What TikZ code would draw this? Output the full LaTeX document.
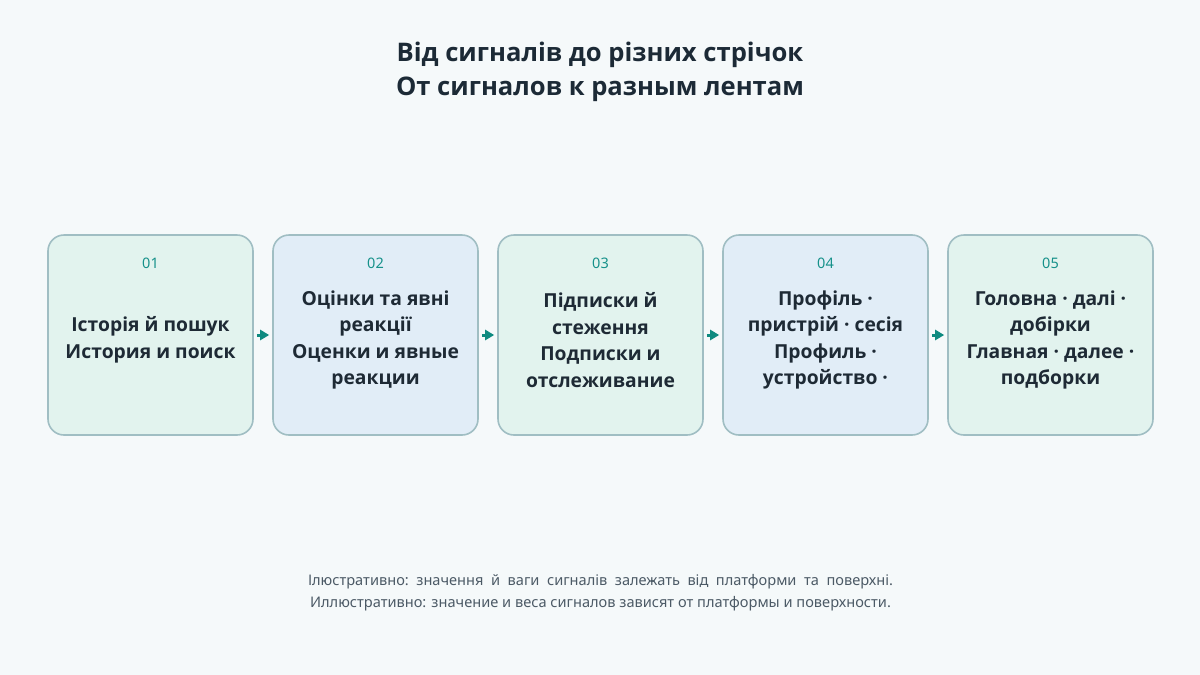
\documentclass[tikz,border=0pt]{standalone}
\usepackage{fontspec}
\setmainfont{Noto Sans}
\newfontfamily\headfont{Open Sans}
\usetikzlibrary{arrows.meta}
\definecolor{bg}{HTML}{F5F9FA}
\definecolor{titlec}{HTML}{1C2A36}
\definecolor{boxtext}{HTML}{1E2A35}
\definecolor{greenf}{HTML}{E2F3EE}
\definecolor{bluef}{HTML}{E1EDF7}
\definecolor{boxline}{HTML}{A0BEC3}
\definecolor{numc}{HTML}{16918A}
\definecolor{arrowc}{HTML}{0E8A80}
\definecolor{footc}{HTML}{4C5A66}
\tikzset{
  stagebox/.style={draw=boxline, line width=1.6pt, rounded corners=16pt,
    minimum width=205pt, minimum height=200pt, inner sep=0pt},
  greenbox/.style={stagebox, fill=greenf},
  bluebox/.style={stagebox, fill=bluef},
  numtext/.style={text=numc, font=\fontsize{14.5}{16}\selectfont, inner sep=0pt},
  stagetext/.style={text=boxtext, align=center, inner sep=0pt,
    font=\headfont\fontsize{19.3}{26.5}\selectfont\bfseries},
  flow/.style={draw=arrowc, line width=3pt, -{Triangle[length=9pt,width=10pt]},
    shorten <=3pt, shorten >=3pt}
}
\begin{document}
\begin{tikzpicture}[x=1pt,y=-1pt]
\fill[bg] (0,0) rectangle (1200,675);
\useasboundingbox (0,0) rectangle (1200,675);
\node[text=titlec, align=center, font=\headfont\fontsize{25.6}{34}\selectfont\bfseries] (title) at (600,72)
  {Від сигналів до різних стрічок\\От сигналов к разным лентам};

\node[greenbox] (b1) at (150.5,335) {};
\node[bluebox]  (b2) at (375.5,335) {};
\node[greenbox] (b3) at (600.5,335) {};
\node[bluebox]  (b4) at (825.5,335) {};
\node[greenbox] (b5) at (1050.5,335) {};

\node[numtext] (n1) at (150.5,263) {01};
\node[numtext] (n2) at (375.5,263) {02};
\node[numtext] (n3) at (600.5,263) {03};
\node[numtext] (n4) at (825.5,263) {04};
\node[numtext] (n5) at (1050.5,263) {05};

\node[stagetext] (t1) at (150.5,340) {Історія й пошук\\История и поиск};
\node[stagetext] (t2) at (375.5,340) {Оцінки та явні\\реакції\\Оценки и явные\\реакции};
\node[stagetext] (t3) at (600.5,340) {Підписки й\\стеження\\Подписки и\\отслеживание};
\node[stagetext] (t4) at (825.5,340) {Профіль ·\\пристрій · сесія\\Профиль ·\\устройство ·};
\node[stagetext] (t5) at (1050.5,340) {Головна · далі ·\\добірки\\Главная · далее ·\\подборки};

\draw[flow] (b1.east) -- (b2.west);
\draw[flow] (b2.east) -- (b3.west);
\draw[flow] (b3.east) -- (b4.west);
\draw[flow] (b4.east) -- (b5.west);

\node[text=footc, align=center, font=\fontsize{14.6}{22}\selectfont, inner sep=0pt] (foot) at (600.5,593)
  {\hbox to 585pt{Ілюстративно:\hfill значення\hfill й\hfill ваги\hfill сигналів\hfill залежать\hfill від\hfill платформи\hfill та\hfill поверхні.}\\
   Иллюстративно: значение и веса сигналов зависят от платформы и поверхности.};
\end{tikzpicture}
\end{document}
